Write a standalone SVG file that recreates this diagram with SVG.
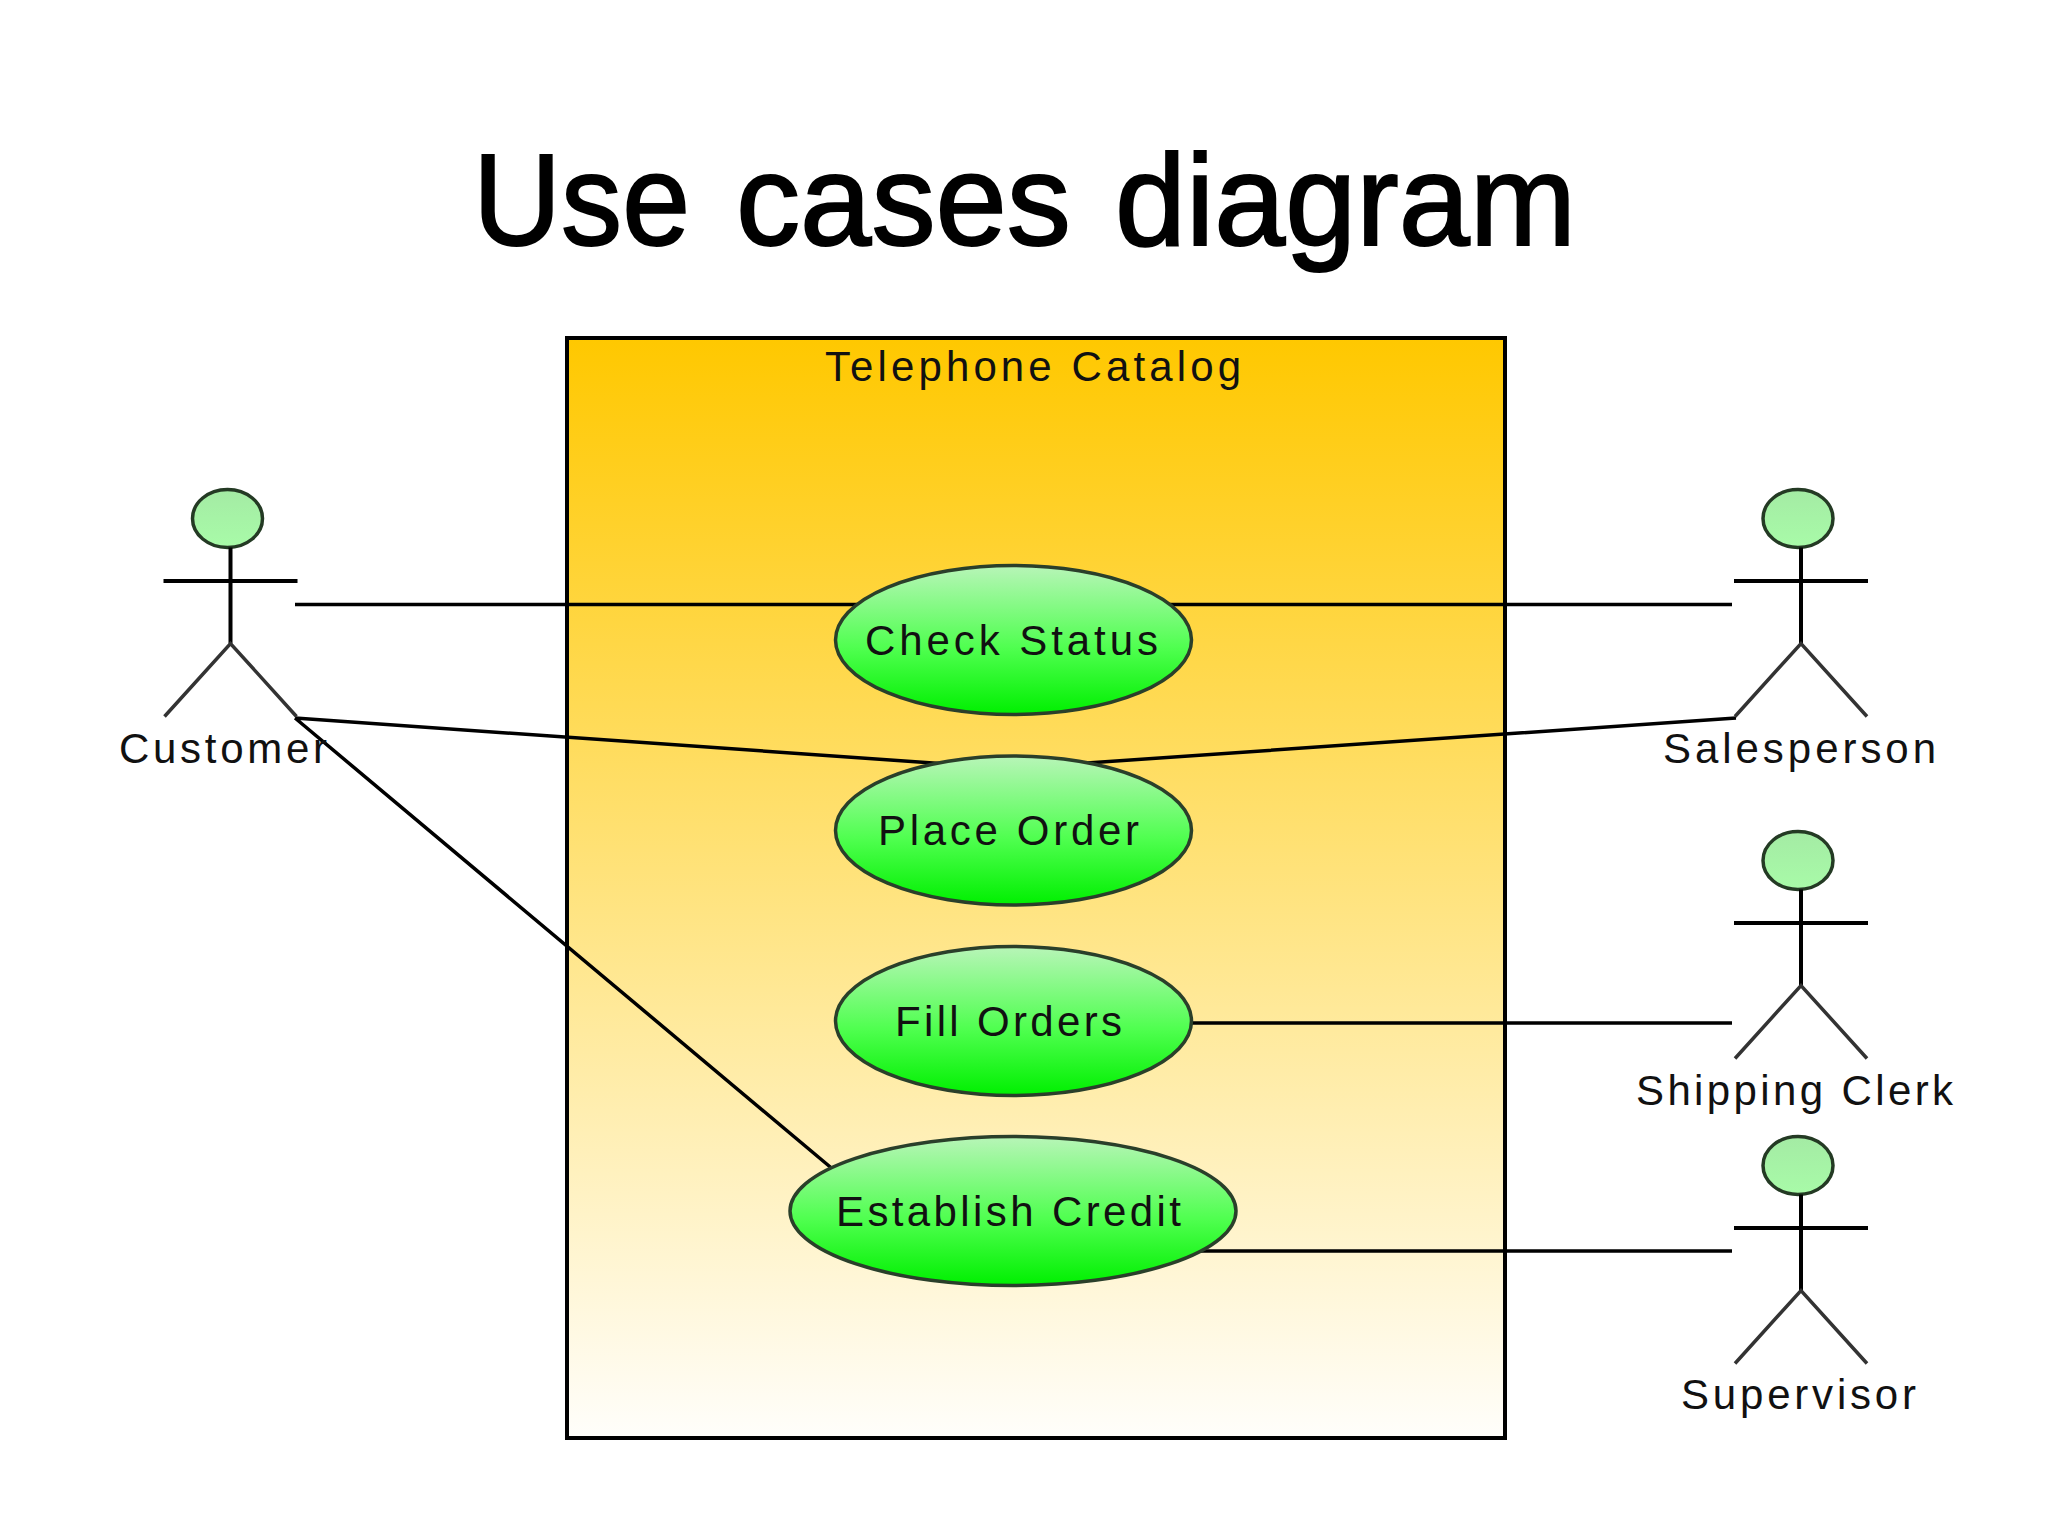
<svg xmlns="http://www.w3.org/2000/svg" width="2048" height="1536" viewBox="0 0 2048 1536">
<style>
text{font-family:"Liberation Sans",Arial,sans-serif;fill:#111}
.t{font-size:42px}
.title{font-size:130px;fill:#000;stroke:#000;stroke-width:2}
.uc{fill:url(#g);stroke:#2a3f2a;stroke-width:3.5}
.head{fill:url(#h);stroke:#243a24;stroke-width:3.5}
.b{stroke:#000;stroke-width:4;fill:none}
.leg{stroke:#333;stroke-width:3.5;fill:none}
.c{stroke:#000;stroke-width:3.5;fill:none}
</style>
<defs>
<linearGradient id="o" x1="0" y1="0" x2="0" y2="1"><stop offset="0" stop-color="#ffc800"/><stop offset="1" stop-color="#fffefb"/></linearGradient>
<linearGradient id="g" x1="0" y1="0" x2="0" y2="1"><stop offset="0" stop-color="#b8f5b8"/><stop offset=".55" stop-color="#50ff50"/><stop offset="1" stop-color="#00f000"/></linearGradient>
<linearGradient id="h" x1="0" y1="0" x2="0" y2="1"><stop offset="0" stop-color="#a4eba4"/><stop offset="1" stop-color="#a8fba8"/></linearGradient>
<g id="man">
<ellipse class="head" cx="-3" cy="-63" rx="35" ry="29"/>
<path class="b" d="M0-34V62M-67-.5H67"/>
<path class="leg" d="M-66 135L0 62L66 135"/>
</g>
</defs>
<rect width="2048" height="1536" fill="#fff"/>
<text class="title" y="245"><tspan x="473" textLength="217" lengthAdjust="spacingAndGlyphs">Use</tspan> <tspan x="736" textLength="335" lengthAdjust="spacingAndGlyphs">cases</tspan> <tspan x="1115" textLength="461" lengthAdjust="spacingAndGlyphs">diagram</tspan></text>
<g id="system">
<rect x="567" y="338" width="938" height="1100" fill="url(#o)" stroke="#000" stroke-width="4"/>
<text class="t" x="825" y="381" textLength="416" lengthAdjust="spacing">Telephone Catalog</text>
</g>
<g id="connectors">
<path class="c" d="M295 604.5H860M1165 604.5H1732M295 718L940 763.5M1736 718L1087 763M295 718L835 1171M1185 1023H1732M1195 1251H1732"/>
</g>
<g id="uc-check"><ellipse class="uc" cx="1013.5" cy="640" rx="178" ry="74.5"/><text class="t" x="865" y="655" textLength="293" lengthAdjust="spacing">Check Status</text></g>
<g id="uc-place"><ellipse class="uc" cx="1013.5" cy="830.5" rx="178" ry="74.5"/><text class="t" x="878" y="845" textLength="261" lengthAdjust="spacing">Place Order</text></g>
<g id="uc-fill"><ellipse class="uc" cx="1013.5" cy="1021" rx="178" ry="74.5"/><text class="t" x="895" y="1036" textLength="227" lengthAdjust="spacing">Fill Orders</text></g>
<g id="uc-credit"><ellipse class="uc" cx="1013" cy="1211" rx="223" ry="74.5"/><text class="t" x="836" y="1226" textLength="345" lengthAdjust="spacing">Establish Credit</text></g>
<g id="actor-customer"><use href="#man" transform="translate(230.5 581.5)"/><text class="t" x="119" y="763" textLength="208" lengthAdjust="spacing">Customer</text></g>
<g id="actor-salesperson"><use href="#man" transform="translate(1801 581.5)"/><text class="t" x="1663" y="763" textLength="273" lengthAdjust="spacing">Salesperson</text></g>
<g id="actor-clerk"><use href="#man" transform="translate(1801 923.5)"/><text class="t" x="1636" y="1105" textLength="317" lengthAdjust="spacing">Shipping Clerk</text></g>
<g id="actor-supervisor"><use href="#man" transform="translate(1801 1228.5)"/><text class="t" x="1681" y="1409" textLength="235" lengthAdjust="spacing">Supervisor</text></g>
</svg>
